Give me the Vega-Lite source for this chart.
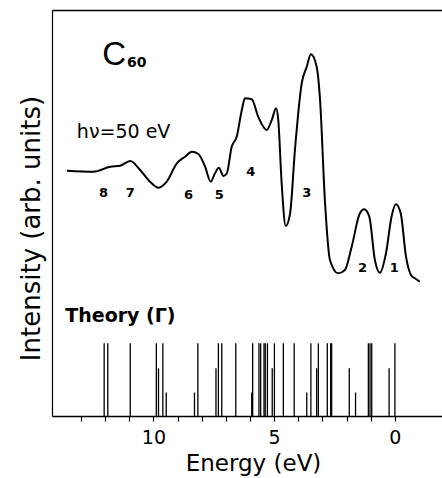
{
  "$schema": "https://vega.github.io/schema/vega-lite/v6.json",
  "width": 390,
  "height": 406,
  "autosize": {"type": "none"},
  "padding": {"left": 52, "top": 10, "right": 0, "bottom": 62},
  "background": "white",
  "config": {"view": {"stroke": null}},
  "datasets": {
    "spectrum": [
      {"E": 13.58, "I": 245.3}, {"E": 12.48, "I": 244.3}, {"E": 11.79, "I": 249.3}, {"E": 11.38, "I": 250.3},
      {"E": 10.96, "I": 255.0}, {"E": 10.55, "I": 246.0}, {"E": 10.14, "I": 234.3}, {"E": 9.79, "I": 228.3},
      {"E": 9.45, "I": 234.3}, {"E": 9.03, "I": 252.7}, {"E": 8.69, "I": 259.3}, {"E": 8.41, "I": 264.3},
      {"E": 8.14, "I": 262.0}, {"E": 7.86, "I": 249.3}, {"E": 7.63, "I": 234.3}, {"E": 7.45, "I": 242.7},
      {"E": 7.29, "I": 248.3}, {"E": 7.10, "I": 240.0}, {"E": 6.96, "I": 242.7}, {"E": 6.76, "I": 269.3},
      {"E": 6.55, "I": 279.3}, {"E": 6.34, "I": 306.0}, {"E": 6.21, "I": 317.7}, {"E": 5.93, "I": 316.7},
      {"E": 5.66, "I": 299.3}, {"E": 5.31, "I": 286.0}, {"E": 5.10, "I": 296.0}, {"E": 4.92, "I": 307.7},
      {"E": 4.83, "I": 296.0}, {"E": 4.69, "I": 232.7}, {"E": 4.52, "I": 190.0}, {"E": 4.34, "I": 202.7},
      {"E": 4.14, "I": 266.0}, {"E": 3.86, "I": 332.7}, {"E": 3.65, "I": 349.3}, {"E": 3.48, "I": 361.7},
      {"E": 3.24, "I": 349.3}, {"E": 3.10, "I": 316.0}, {"E": 2.90, "I": 216.0}, {"E": 2.69, "I": 156.0},
      {"E": 2.35, "I": 142.7}, {"E": 2.07, "I": 146.0}, {"E": 1.79, "I": 169.3}, {"E": 1.45, "I": 202.7},
      {"E": 1.27, "I": 206.7}, {"E": 1.06, "I": 199.3}, {"E": 0.83, "I": 156.0}, {"E": 0.62, "I": 143.3},
      {"E": 0.37, "I": 162.7}, {"E": 0.14, "I": 199.3}, {"E": -0.04, "I": 211.7}, {"E": -0.24, "I": 202.7},
      {"E": -0.46, "I": 159.3}, {"E": -0.69, "I": 140.0}, {"E": -0.83, "I": 137.7}, {"E": -1.03, "I": 134.3}
    ],
    "theory": [
      {"E": 12.04, "h": 72.7}, {"E": 11.89, "h": 72.7}, {"E": 10.96, "h": 72.7}, {"E": 9.88, "h": 72.7},
      {"E": 9.61, "h": 72.7}, {"E": 8.16, "h": 72.7}, {"E": 7.31, "h": 72.7}, {"E": 7.17, "h": 72.7},
      {"E": 6.59, "h": 72.7}, {"E": 5.89, "h": 72.7}, {"E": 5.63, "h": 72.7}, {"E": 5.56, "h": 72.7},
      {"E": 5.42, "h": 72.7}, {"E": 5.37, "h": 72.7}, {"E": 5.28, "h": 72.7}, {"E": 4.99, "h": 72.7},
      {"E": 4.62, "h": 72.7}, {"E": 4.17, "h": 72.7}, {"E": 3.48, "h": 72.7}, {"E": 3.17, "h": 72.7},
      {"E": 2.80, "h": 72.7}, {"E": 2.66, "h": 72.7}, {"E": 2.62, "h": 72.7}, {"E": 1.10, "h": 72.7},
      {"E": 1.03, "h": 72.7}, {"E": 0.96, "h": 72.7}, {"E": 0.0, "h": 72.7},
      {"E": 9.79, "h": 47.7}, {"E": 7.41, "h": 47.7}, {"E": 5.08, "h": 47.7}, {"E": 3.24, "h": 47.7},
      {"E": 1.89, "h": 47.7}, {"E": 0.24, "h": 47.7},
      {"E": 9.47, "h": 23.5}, {"E": 8.30, "h": 23.5}, {"E": 5.93, "h": 23.5}, {"E": 3.65, "h": 23.5},
      {"E": 1.63, "h": 23.5}
    ],
    "peaks": [
      {"E": 12.07, "I": 222.7, "t": "8"}, {"E": 10.96, "I": 222.7, "t": "7"}, {"E": 8.55, "I": 221.0, "t": "6"},
      {"E": 7.27, "I": 221.0, "t": "5"}, {"E": 5.97, "I": 244.3, "t": "4"}, {"E": 3.65, "I": 222.7, "t": "3"},
      {"E": 1.34, "I": 147.7, "t": "2"}, {"E": 0.03, "I": 147.7, "t": "1"}
    ],
    "cmain": [{"E": 11.63, "I": 361, "t": "C"}],
    "csub": [{"E": 10.69, "I": 353, "t": "60"}],
    "hnu": [{"E": 13.17, "I": 284.5, "t": "hν=50 eV"}],
    "theo": [{"E": 13.65, "I": 100, "t": "Theory (Γ)"}]
  },
  "layer": [
    {
      "data": {"name": "spectrum"},
      "mark": {"type": "line", "color": "black", "strokeWidth": 2, "interpolate": "monotone"},
      "encoding": {
        "x": {"field": "E", "type": "quantitative",
          "scale": {"domain": [-1.95, 14.2], "reverse": true, "nice": false, "zero": false},
          "axis": {"orient": "bottom", "title": "Energy (eV)", "values": [0,1,2,3,4,5,6,7,8,9,10,11,12,13],
            "labelExpr": "datum.value % 5 === 0 ? datum.label : ''", "grid": false,
            "domainColor": "black", "domainWidth": 1.5, "tickColor": "black", "tickSize": 5, "tickWidth": 1.2,
            "labelFont": "DejaVu Sans", "labelFontSize": 19, "labelColor": "black", "labelPadding": 7,
            "titleFont": "DejaVu Sans", "titleFontSize": 23, "titleFontWeight": "normal", "titleColor": "black", "titlePadding": 5, "titleX": 201}},
        "y": {"field": "I", "type": "quantitative",
          "scale": {"domain": [0, 406], "nice": false, "zero": false},
          "axis": {"orient": "left", "title": "Intensity (arb. units)", "ticks": false, "labels": false, "grid": false,
            "domainColor": "black", "domainWidth": 1.2,
            "titleFont": "DejaVu Sans", "titleFontSize": 26, "titleFontWeight": "normal", "titleColor": "black", "titlePadding": 8, "titleY": 218}}
      }
    },
    {
      "data": {"name": "theory"},
      "mark": {"type": "rule", "color": "black", "strokeWidth": 1.3},
      "encoding": {
        "x": {"field": "E", "type": "quantitative",
          "axis": {"orient": "top", "title": null, "labels": false, "ticks": false, "grid": false, "domainColor": "black", "domainWidth": 1.5}},
        "y": {"field": "h", "type": "quantitative"},
        "y2": {"datum": 0}
      }
    },
    {
      "data": {"name": "peaks"},
      "mark": {"type": "text", "font": "DejaVu Sans", "fontWeight": "bold", "fontSize": 13, "baseline": "middle", "align": "center", "color": "black"},
      "encoding": {"x": {"field": "E", "type": "quantitative", "axis": null}, "y": {"field": "I", "type": "quantitative"}, "text": {"field": "t"}}
    },
    {
      "data": {"name": "cmain"},
      "mark": {"type": "text", "font": "Liberation Sans", "fontSize": 33, "baseline": "middle", "align": "center", "color": "black"},
      "encoding": {"x": {"field": "E", "type": "quantitative", "axis": null}, "y": {"field": "I", "type": "quantitative"}, "text": {"field": "t"}}
    },
    {
      "data": {"name": "csub"},
      "mark": {"type": "text", "font": "DejaVu Sans", "fontWeight": "bold", "fontSize": 14, "baseline": "middle", "align": "center", "color": "black"},
      "encoding": {"x": {"field": "E", "type": "quantitative", "axis": null}, "y": {"field": "I", "type": "quantitative"}, "text": {"field": "t"}}
    },
    {
      "data": {"name": "hnu"},
      "mark": {"type": "text", "font": "DejaVu Sans", "fontSize": 19, "baseline": "middle", "align": "left", "color": "black"},
      "encoding": {"x": {"field": "E", "type": "quantitative", "axis": null}, "y": {"field": "I", "type": "quantitative"}, "text": {"field": "t"}}
    },
    {
      "data": {"name": "theo"},
      "mark": {"type": "text", "font": "DejaVu Sans", "fontWeight": "bold", "fontSize": 19, "baseline": "middle", "align": "left", "color": "black"},
      "encoding": {"x": {"field": "E", "type": "quantitative", "axis": null}, "y": {"field": "I", "type": "quantitative"}, "text": {"field": "t"}}
    }
  ],
  "resolve": {"axis": {"x": "independent"}}
}
